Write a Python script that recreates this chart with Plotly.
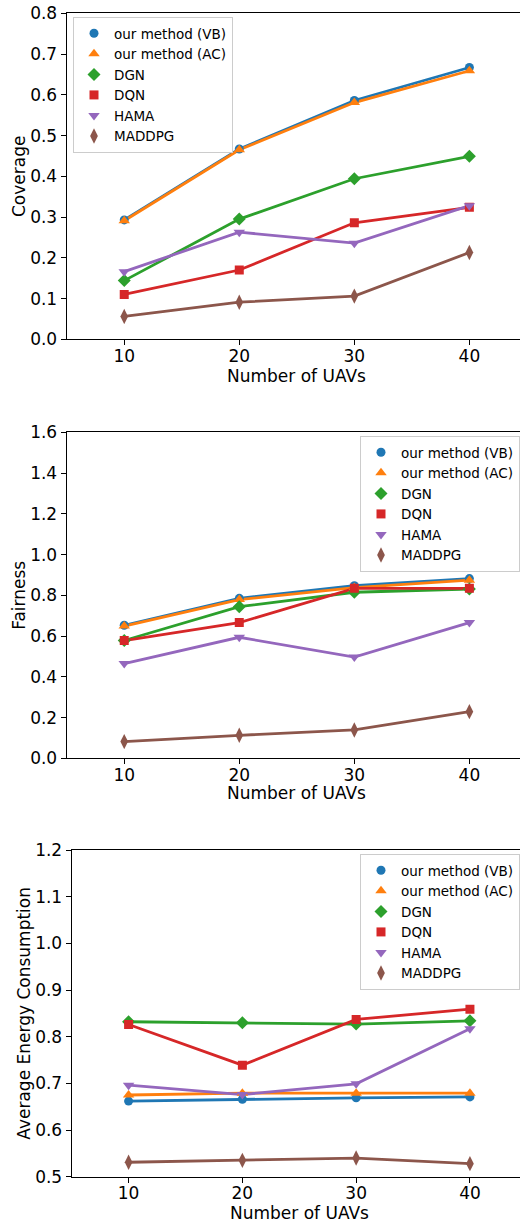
import plotly.graph_objects as go

uavs = [10, 20, 30, 40]
methods = ["our method (VB)", "our method (AC)", "DGN", "DQN", "HAMA", "MADDPG"]
colors = ["#1f77b4", "#ff7f0e", "#2ca02c", "#d62728", "#9467bd", "#8c564b"]
symbols = ["circle", "triangle-up", "diamond", "square", "triangle-down", "diamond-tall"]
msizes = [9, 10, 10, 9, 10, 11]

coverage_vb = [0.293, 0.467, 0.586, 0.667]
coverage_ac = [0.291, 0.465, 0.581, 0.659]
coverage_dgn = [0.144, 0.295, 0.394, 0.449]
coverage_dqn = [0.110, 0.170, 0.286, 0.324]
coverage_hama = [0.166, 0.263, 0.236, 0.328]
coverage_maddpg = [0.056, 0.091, 0.106, 0.213]

fairness_vb = [0.653, 0.785, 0.847, 0.882]
fairness_ac = [0.649, 0.779, 0.838, 0.874]
fairness_dgn = [0.578, 0.744, 0.815, 0.831]
fairness_dqn = [0.578, 0.666, 0.834, 0.834]
fairness_hama = [0.465, 0.594, 0.497, 0.666]
fairness_maddpg = [0.082, 0.113, 0.139, 0.229]

energy_vb = [0.662, 0.666, 0.669, 0.671]
energy_ac = [0.675, 0.679, 0.679, 0.679]
energy_dgn = [0.832, 0.830, 0.827, 0.834]
energy_dqn = [0.826, 0.739, 0.837, 0.859]
energy_hama = [0.696, 0.676, 0.699, 0.817]
energy_maddpg = [0.531, 0.535, 0.540, 0.528]

panels = [
    ([coverage_vb, coverage_ac, coverage_dgn, coverage_dqn, coverage_hama, coverage_maddpg],
     "Coverage", [0, 0.8], [0.0, 0.1, 0.2, 0.3, 0.4, 0.5, 0.6, 0.7, 0.8]),
    ([fairness_vb, fairness_ac, fairness_dgn, fairness_dqn, fairness_hama, fairness_maddpg],
     "Fairness", [0, 1.6], [0.0, 0.2, 0.4, 0.6, 0.8, 1.0, 1.2, 1.4, 1.6]),
    ([energy_vb, energy_ac, energy_dgn, energy_dqn, energy_hama, energy_maddpg],
     "Average Energy Consumption", [0.5, 1.2], [0.5, 0.6, 0.7, 0.8, 0.9, 1.0, 1.1, 1.2]),
]
xtitle = "Number of UAVs"

W, H = 520, 1223
# pixel boxes: (left, top, bottom), x-title centre y
boxes = [(66.7, 13.3, 339.3), (66.7, 432.3, 758.3), (71.7, 850.0, 1176.7)]
xtitle_y = [375.5, 792.5, 1213]
legend_pos = [(73 / W, 1 - 17 / H), (360 / W, 1 - 436 / H), (360 / W, 1 - 854 / H)]

FONT = "DejaVu Sans"
fig = go.Figure()

for p, (series, ytitle, yr, yt) in enumerate(panels):
    ax = "" if p == 0 else str(p + 1)
    lg = "legend" if p == 0 else "legend%d" % (p + 1)
    for i, vals in enumerate(series):
        fig.add_trace(go.Scatter(
            x=uavs, y=vals, mode="lines",
            line=dict(color=colors[i], width=2.8),
            showlegend=False, hoverinfo="skip",
            xaxis="x" + ax, yaxis="y" + ax))
    for i, vals in enumerate(series):
        fig.add_trace(go.Scatter(
            x=uavs, y=vals, mode="markers", name=methods[i],
            marker=dict(color=colors[i], symbol=symbols[i], size=msizes[i], line=dict(width=0)),
            legend=lg, xaxis="x" + ax, yaxis="y" + ax))

layout = dict(
    width=W, height=H,
    margin=dict(l=0, r=0, t=0, b=0, autoexpand=False),
    paper_bgcolor="white", plot_bgcolor="white",
    font=dict(family=FONT, size=17, color="black"),
    showlegend=True,
    annotations=[],
)

for p, (series, ytitle, yr, yt) in enumerate(panels):
    left, top, bottom = boxes[p]
    ax = "" if p == 0 else str(p + 1)
    layout["xaxis" + ax] = dict(
        domain=[left / W, 1.0], range=[5, 44.4],
        tickvals=uavs, ticks="outside", ticklen=5, tickwidth=1, tickcolor="black",
        showline=True, linecolor="black", linewidth=1.2, mirror=True,
        showgrid=False, zeroline=False, automargin=False,
        tickfont=dict(size=17, family=FONT), ticklabelstandoff=-4,
        anchor="y" + ax,
    )
    layout["yaxis" + ax] = dict(
        domain=[1 - bottom / H, 1 - top / H], range=yr,
        tickvals=yt, tickformat=".1f", ticks="outside", ticklen=5, tickwidth=1, tickcolor="black",
        showline=True, linecolor="black", linewidth=1.2, mirror=False,
        showgrid=False, zeroline=False, automargin=False,
        tickfont=dict(size=17, family=FONT),
        title=dict(text=ytitle, font=dict(size=17, family=FONT), standoff=0),
        anchor="x" + ax,
    )
    layout["annotations"].append(dict(
        text=xtitle, xref="x" + ax, yref="paper", x=25, y=1 - xtitle_y[p] / H,
        xanchor="center", yanchor="middle", showarrow=False,
        font=dict(size=17, family=FONT, color="black"),
    ))
    lg = "legend" if p == 0 else "legend%d" % (p + 1)
    lx, ly = legend_pos[p]
    layout[lg] = dict(
        x=lx, y=ly, xanchor="left", yanchor="top",
        bgcolor="rgba(255,255,255,0.85)", bordercolor="#cccccc", borderwidth=1,
        font=dict(size=13.5, family=FONT),
        tracegroupgap=0,
    )

fig.update_layout(**layout)
fig.write_html(
    "out.html",
    config={"displayModeBar": False},
    post_script="document.body.style.margin='0';document.body.style.overflow='hidden';",
)
